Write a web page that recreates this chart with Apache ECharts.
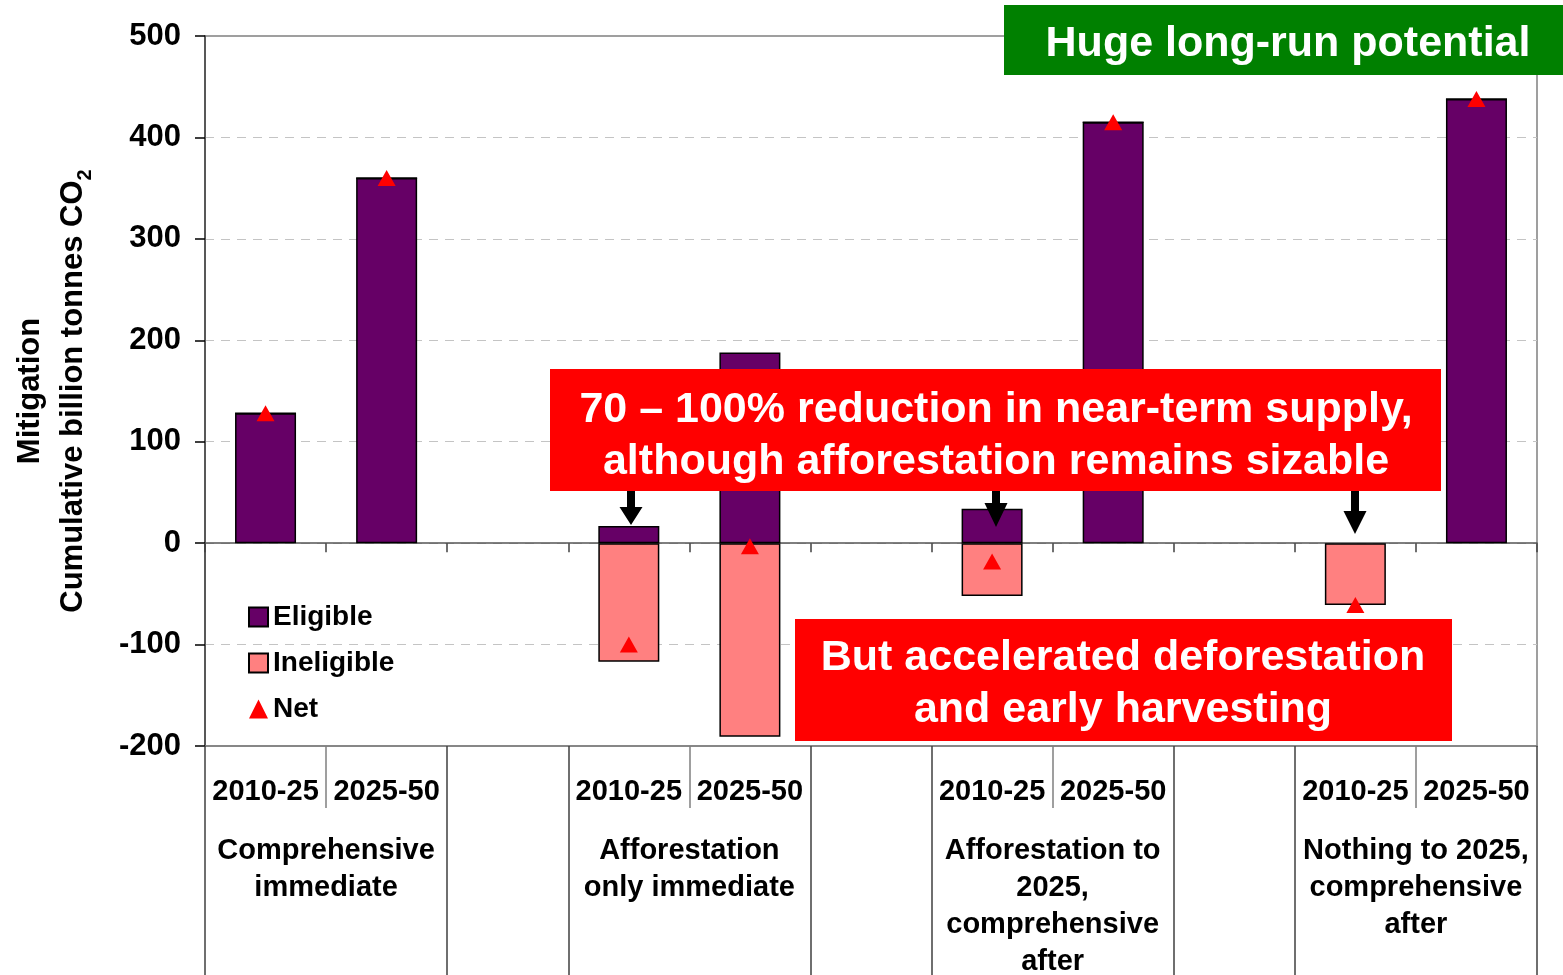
<!DOCTYPE html>
<html lang="en">
<head>
  <meta charset="UTF-8">
  <title>Mitigation</title>
  <script src="https://cdn.jsdelivr.net/npm/echarts@6/dist/echarts.min.js"></script>
  <style>
    html,body{padding:0;margin:0;background:#fff;overflow:hidden;}
    #chart{width:100vw;height:100vh;}
  </style>
</head>
<body>
  <div id="chart"></div>
  <script>
    const FONT = '"Liberation Sans", Arial, sans-serif'

    // 11 bar slots: 4 scenarios x 2 periods, with an empty slot between scenarios
    const categories = ['2010-25','2025-50','','2010-25','2025-50','','2010-25','2025-50','','2010-25','2025-50']
    const groupNames = ['Comprehensive\nimmediate','Afforestation\nonly immediate','Afforestation to\n2025,\ncomprehensive\nafter','Nothing to 2025,\ncomprehensive\nafter']

    const eligible   = [128, 360, null, 17, 188, null, 34, 415, null, null, 438]
    const ineligible = [0,   0,   null, -117, -191, null, -52, 0, null, -61, 0]
    const net        = [128, 360, null, -100, -3, null, -18, 415, null, -61, 438]

    const yTicks = [-200, -100, 0, 100, 200, 300, 400, 500]

    // boundary axis: one entry per slot edge, scenario name sits on the edge between its two bars
    const boundaries = []
    for (let i = 0; i <= categories.length; i++) {
      boundaries.push(i % 3 === 1 ? groupNames[(i - 1) / 3] : '')
    }

    function arrow(cx, y0, y1, y2) {
      return {
        type: 'polygon', z: 20,
        shape: {points: [[cx-4,y0],[cx+4,y0],[cx+4,y1],[cx+11.5,y1],[cx,y2],[cx-11.5,y1],[cx-4,y1]]},
        style: {fill: '#000'}
      }
    }
    function box(x, y, w, h, color, text, cx, cy) {
      return [
        {type: 'rect', z: 15, shape: {x: x, y: y, width: w, height: h}, style: {fill: color}},
        {type: 'text', z: 16, x: cx, y: cy, style: {
          text: text, fill: '#fff', font: 'bold 43px ' + FONT,
          textAlign: 'center', textVerticalAlign: 'middle', lineHeight: 52
        }}
      ]
    }

    let option = {
      animation: false,
      textStyle: {fontFamily: FONT},
      grid: {
        left: 205, right: 26, top: 36, height: 710,
        containLabel: false, outerBoundsMode: 'none',
        show: true, borderColor: '#808080', borderWidth: 1.5
      },
      legend: {
        orient: 'vertical',
        left: 243, top: 598,
        itemWidth: 19, itemHeight: 19, itemGap: 18,
        textStyle: {fontSize: 28, fontWeight: 'bold', color: '#000'},
        data: [{name: 'Eligible', icon: 'rect'}, {name: 'Ineligible', icon: 'rect'}, {name: 'Net'}]
      },
      xAxis: [
        { // bars, axis line on zero
          type: 'category', data: categories, gridIndex: 0,
          axisLine: {onZero: true, lineStyle: {color: '#555', width: 1.5}},
          axisTick: {show: true, interval: 0, length: 9, lineStyle: {color: '#404040', width: 1.5}},
          axisLabel: {show: false}
        },
        { // table: scenario boundaries + scenario names
          type: 'category', data: boundaries, boundaryGap: false, position: 'bottom',
          axisLine: {onZero: false, show: true, lineStyle: {color: '#808080', width: 1.5}},
          axisTick: {show: true, length: 240, interval: (i) => i % 3 !== 1, lineStyle: {color: '#404040', width: 1.5}},
          axisLabel: {show: true, interval: 0, margin: 86, fontSize: 29, fontWeight: 'bold', color: '#000', lineHeight: 37, align: 'center'}
        },
        { // short dividers between the two periods
          type: 'category', data: boundaries, boundaryGap: false, position: 'bottom',
          axisLine: {onZero: false, show: false},
          axisTick: {show: true, length: 62, interval: (i) => i % 3 === 1, lineStyle: {color: '#808080', width: 1.5}},
          axisLabel: {show: false}
        },
        { // period labels
          type: 'category', data: categories, position: 'bottom',
          axisLine: {onZero: false, show: false},
          axisTick: {show: false},
          axisLabel: {show: true, interval: 0, margin: 30, fontSize: 29, fontWeight: 'bold', color: '#000', lineHeight: 32}
        }
      ],
      yAxis: {
        type: 'value', min: yTicks[0], max: yTicks[yTicks.length - 1], interval: 100,
        name: '{a|Mitigation}\n{a|Cumulative billion tonnes CO}{s|2}',
        nameLocation: 'middle', nameRotate: 90, nameGap: 110,
        nameTextStyle: {
          rich: {
            a: {fontSize: 31, fontWeight: 'bold', color: '#000', lineHeight: 43, fontFamily: FONT},
            s: {fontSize: 20, fontWeight: 'bold', color: '#000', verticalAlign: 'bottom', fontFamily: FONT}
          }
        },
        axisLine: {show: true, lineStyle: {color: '#404040', width: 1.5}},
        axisTick: {show: true, length: 10, lineStyle: {color: '#000', width: 1.5}},
        axisLabel: {fontSize: 31, fontWeight: 'bold', color: '#000', margin: 24},
        splitLine: {
          show: true, showMinLine: false, showMaxLine: false,
          lineStyle: {color: '#c4c4c4', type: [9, 7], width: 1.2}
        }
      },
      series: [
        {
          name: 'Eligible', type: 'bar', stack: 'total', xAxisIndex: 0, barWidth: 61,
          itemStyle: {color: '#660066', borderColor: '#000', borderWidth: 1.5},
          data: eligible
        },
        {
          name: 'Ineligible', type: 'bar', stack: 'total', xAxisIndex: 0, barWidth: 61,
          itemStyle: {color: '#FF8080', borderColor: '#000', borderWidth: 1.5},
          data: ineligible
        },
        {
          name: 'Net', type: 'scatter', xAxisIndex: 0, z: 5,
          symbol: 'triangle', symbolSize: [18, 16],
          itemStyle: {color: '#FF0000', opacity: 1},
          data: net
        }
      ],
      graphic: [].concat(
        box(1004, 5, 559, 70, '#008000', 'Huge long-run potential', 1288, 44),
        box(550, 369, 891, 122, '#FF0000', '70 \u2013 100% reduction in near-term supply,\nalthough afforestation remains sizable', 996, 436),
        box(795, 619, 657, 122, '#FF0000', 'But accelerated deforestation\nand early harvesting', 1123, 684),
        [arrow(631, 491, 507, 525), arrow(996, 491, 503, 527), arrow(1355, 491, 511, 534)]
      )
    };
    let myChart = echarts.init(document.getElementById('chart'));
    myChart.setOption(option);
  </script>
</body>
</html>
